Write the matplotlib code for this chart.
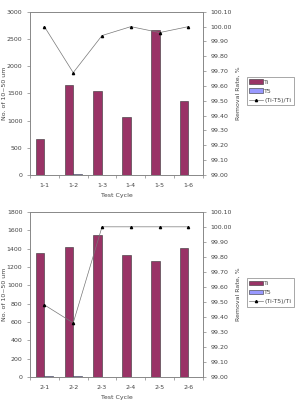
import numpy as np
import matplotlib
matplotlib.use("Agg")
import matplotlib.pyplot as plt
from matplotlib.lines import Line2D
from matplotlib.patches import Patch

cyc1 = ["1-1", "1-2", "1-3", "1-4", "1-5", "1-6"]
ti1 = [670, 1650, 1550, 1060, 2660, 1360]
t51 = [0, 15, 0, 0, 0, 0]
rate1 = [100.00, 99.69, 99.94, 100.00, 99.96, 100.00]

cyc2 = ["2-1", "2-2", "2-3", "2-4", "2-5", "2-6"]
ti2 = [1350, 1420, 1550, 1330, 1265, 1405]
t52 = [8, 10, 0, 0, 0, 0]
rate2 = [99.48, 99.36, 100.00, 100.00, 100.00, 100.00]

fs = 4.5
ti_col = "#993366"
t5_col = "#9999ff"

fig = plt.figure(figsize=(2.97, 4.0), dpi=100)


def panel(rect, cyc, ti, t5, rate, ymax, ystep, leg_y):
    ax = fig.add_axes(rect)
    x = np.arange(len(cyc))
    w = 0.3
    ax.bar(x - w / 2, ti, w, color=ti_col, edgecolor="#333333", linewidth=0.4)
    ax.bar(x + w / 2, t5, w, color=t5_col, edgecolor="#333333", linewidth=0.4)
    ax.set_xlim(-0.5, len(cyc) - 0.5)
    ax.set_ylim(0, ymax)
    ax.set_yticks(np.arange(0, ymax + 1, ystep))
    ax.set_xticks(x)
    ax.set_xticklabels(cyc)
    ax.set_xticks(np.arange(-0.5, len(cyc), 1), minor=True)
    ax.tick_params(axis="x", which="major", length=0, labelsize=fs, pad=6, colors="#444444")
    ax.tick_params(axis="x", which="minor", length=2, width=0.4, color="#666666")
    ax.tick_params(axis="y", labelsize=fs, length=2, width=0.4, color="#666666", labelcolor="#444444")
    ax.set_ylabel("No. of 10~50 um", fontsize=fs, color="#444444", va="center")
    ax.yaxis.set_label_coords(-0.15, 0.5)
    ax.set_xlabel("Test Cycle", fontsize=fs, color="#444444", labelpad=3)
    for s in ax.spines.values():
        s.set_color("#888888")
        s.set_linewidth(0.6)

    ax2 = ax.twinx()
    ax2.plot(x, rate, color="#777777", linewidth=0.5, marker="^", markersize=1.6,
             markerfacecolor="black", markeredgecolor="black")
    ax2.set_ylim(99.0, 100.10)
    ax2.set_yticks(np.arange(99.0, 100.101, 0.1))
    ax2.set_yticklabels([f"{v:.2f}" for v in np.arange(99.0, 100.101, 0.1)])
    ax2.tick_params(axis="y", labelsize=fs, length=2, width=0.4, color="#666666", labelcolor="#444444")
    ax2.set_ylabel("Removal Rate, %", fontsize=fs, color="#444444", labelpad=3)
    for s in ax2.spines.values():
        s.set_color("#888888")
        s.set_linewidth(0.6)

    handles = [Patch(facecolor=ti_col, edgecolor="#333333", linewidth=0.4),
               Patch(facecolor=t5_col, edgecolor="#333333", linewidth=0.4),
               Line2D([0], [0], color="#777777", linewidth=0.5, marker="^", markersize=1.6,
                      markerfacecolor="black", markeredgecolor="black")]
    leg = fig.legend(handles, ["Ti", "T5", "(Ti-T5)/Ti"], loc="upper left",
                     bbox_to_anchor=(0.83, leg_y), fontsize=fs, frameon=True,
                     fancybox=False, edgecolor="#666666", handlelength=2.2,
                     handletextpad=0.2, borderpad=0.4, labelspacing=0.6,
                     borderaxespad=0)
    leg.get_frame().set_linewidth(0.5)
    for t in leg.get_texts():
        t.set_color("#444444")


panel([0.101, 0.5625, 0.582, 0.408], cyc1, ti1, t51, rate1, 3000, 500, 0.808)
panel([0.101, 0.0575, 0.582, 0.413], cyc2, ti2, t52, rate2, 1800, 200, 0.305)

fig.savefig("out.png", dpi=100)
